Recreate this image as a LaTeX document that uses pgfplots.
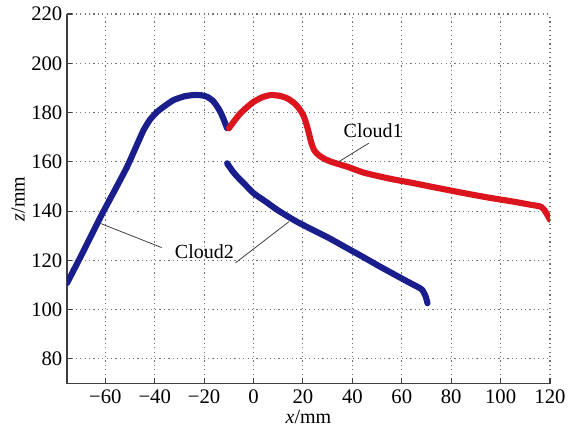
\documentclass[border=0pt]{standalone}
\usepackage{pgfplots}
\pgfplotsset{compat=1.18}
\usepackage{fontspec}
\setmainfont{Liberation Serif}

\definecolor{cloudblue}{RGB}{25,30,140}
\definecolor{cloudred}{RGB}{220,20,30}

\begin{document}
\begin{tikzpicture}
\begin{axis}[
  scale only axis, width=362pt, height=277pt,
  xmin=-75.5, xmax=120, ymin=70, ymax=220,
  axis x line*=bottom, axis y line*=left,
  axis line style={-, black!75, line width=1pt},
  xtick={-60,-40,...,120},
  xticklabels={−60,−40,−20,0,20,40,60,80,100,120},
  ytick={80,100,...,220},
  yticklabels={80,100,120,140,160,180,200,220},
  tick align=inside, major tick length=4pt,
  tick style={black!75, line width=0.8pt},
  grid=major, grid style={black!55, line width=0.8pt, dash pattern=on 0.9pt off 2.4pt},
  font=\fontsize{15}{18}\selectfont,
  tick label style={font=\fontsize{15.5}{18}\selectfont},
  xticklabel style={yshift=-1pt},
  xlabel={\textit{x}/mm}, ylabel={\textit{z}/mm},
  xlabel style={yshift=2pt}, ylabel style={yshift=-2pt},
  every axis plot/.append style={line width=4.6pt, line join=round, line cap=round, smooth, tension=0.4},
]
% Cloud2, upper branch
\addplot[cloudblue] coordinates {
  (-75.5,110.8) (-70,121.5) (-62,137.5) (-56,148.8) (-51.2,158) (-46.5,168.5)
  (-44.5,172.9) (-42,177) (-39,180.3) (-35.5,183) (-32.3,185.1) (-28,186.6)
  (-24.2,187.1) (-21,187) (-18.8,186.4) (-16.5,184.8) (-14.7,182.4)
  (-13.2,179.8) (-12,177) (-10.7,173.6)
};
% Cloud2, lower branch
\addplot[cloudblue] coordinates {
  (-10.7,159.4) (-8.5,156.2) (-6.6,154) (-3,150.3) (0.1,147.2) (5,143.8)
  (9.6,140.5) (17.7,135.6) (29.9,129.4) (38,124.9) (45,121) (51.5,117.3)
  (62.3,111.4) (66.5,109.2) (68.3,108) (69.7,105.3) (70.4,102.6)
};
% Cloud1
\addplot[cloudred] coordinates {
  (-10,173.6) (-7.5,177) (-5.3,179.7) (-2.5,182.3) (0.1,184.4) (3.5,186.2)
  (6.9,187.1) (10.5,186.8) (13.6,185.8) (16.5,183.8) (18.4,181.7) (20.2,178.8)
  (21.5,175) (22.5,171.2) (23.3,168) (24.4,165) (25.8,163.2) (28,161.6)
  (31.2,160.1) (38,158) (44.7,155.6) (55,153.2) (65,151.3) (75,149.3)
  (85.2,147.3) (95,145.5) (105.5,143.8) (112,142.6) (116.3,141.8) (118,140)
  (120,136.5)
};
% labels
\node[font=\fontsize{15}{18}\selectfont] at (axis cs:48.4,172.7) {Cloud1};
\draw[black!75, line width=0.6pt] (axis cs:34.6,160.1) -- (axis cs:46.7,167.6);
\node[font=\fontsize{15}{18}\selectfont] at (axis cs:-19.9,123.4) {Cloud2};
\draw[black!75, line width=0.6pt] (axis cs:-62,135) -- (axis cs:-37.2,125.2);
\draw[black!75, line width=0.6pt] (axis cs:-7.3,119) -- (axis cs:14.3,135.7);
\end{axis}
\path ([xshift=-50.25pt,yshift=-37.5pt]current axis.south west)
  rectangle ([xshift=17.25pt,yshift=10.5pt]current axis.north east);
\end{tikzpicture}
\end{document}
